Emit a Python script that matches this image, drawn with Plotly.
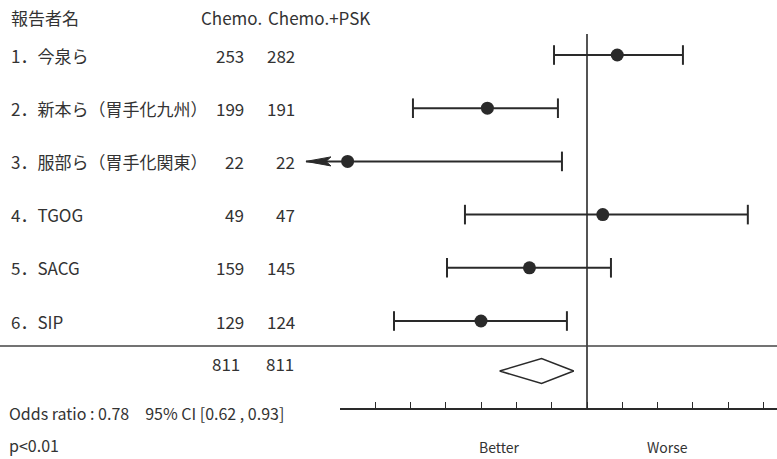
import numpy as np
import plotly.graph_objects as go

# ---------------- data ----------------
header_name = "報告者名"
header_c1 = "Chemo."
header_c2 = "Chemo.+PSK"
studies = ["1．今泉ら", "2．新本ら（胃手化九州）", "3．服部ら（胃手化関東）",
           "4．TGOG", "5．SACG", "6．SIP"]
n_chemo = [253, 199, 22, 49, 159, 129]
n_psk = [282, 191, 22, 47, 145, 124]
odds = [1.18, 0.58, 0.27, 1.09, 0.73, 0.56]
ci_low = [0.835, 0.386, 0.05, 0.513, 0.465, 0.348]
ci_high = [1.69, 0.853, 0.872, 2.41, 1.14, 0.896]
pooled_or, pooled_lo, pooled_hi = 0.78, 0.62, 0.93
stat_text = "Odds ratio : 0.78　95% CI [0.62 , 0.93]"
p_text = "p<0.01"
side_labels = ["Better", "Worse"]
side_label_x = [0.62, 1.55]

# ---------------- style / layout constants ----------------
W, H = 777, 459
ink = "#2a2a2a"
txt = "#333333"
font_cjk = "Noto Sans CJK JP"
x_range = [-1.3943, 0.4513]          # log10 units of the full-width x axis
y_range = [8.594, -0.034]            # row units, reversed
axis_dom_start = 340 / W
axis_row = 7.654
vline_top = 0.605
sep_row = 6.47
sum_row = 6.94
tot_row = 6.79
diamond_h = 0.235
header_row = 0.29
stat_row = 7.73
p_row = 8.33
arrow_min = 0.215                    # CI clipped here with an arrow
arrow_len_dec = 25 / 421             # head length in log10 units
arrow_half_h = 0.085
tick_step = 0.0838
rows = list(range(1, len(studies) + 1))

fig = go.Figure()

# CI lines
xs, ys = [], []
for r, lo, hi in zip(rows, ci_low, ci_high):
    xs += [max(lo, arrow_min), hi, None]
    ys += [r, r, None]
fig.add_trace(go.Scatter(x=xs, y=ys, mode="lines", line=dict(color=ink, width=2),
                         hoverinfo="skip", showlegend=False))

# caps
cx, cy = [], []
for r, lo, hi in zip(rows, ci_low, ci_high):
    if lo >= arrow_min:
        cx.append(lo); cy.append(r)
    cx.append(hi); cy.append(r)
fig.add_trace(go.Scatter(x=cx, y=cy, mode="markers",
                         marker=dict(symbol="line-ns-open", size=14, color=ink,
                                     line=dict(color=ink, width=2)),
                         hoverinfo="skip", showlegend=False))

# arrow heads for clipped CIs
for r, lo in zip(rows, ci_low):
    if lo < arrow_min:
        base = arrow_min * 10 ** arrow_len_dec
        notch = arrow_min * 10 ** (arrow_len_dec * 0.8)
        fig.add_trace(go.Scatter(
            x=[arrow_min, base, notch, base, arrow_min],
            y=[r, r - arrow_half_h, r, r + arrow_half_h, r],
            mode="lines", fill="toself", fillcolor=ink,
            line=dict(color=ink, width=1), hoverinfo="skip", showlegend=False))

# point estimates
fig.add_trace(go.Scatter(x=odds, y=rows, mode="markers",
                         marker=dict(size=13, color=ink),
                         hoverinfo="skip", showlegend=False))

# pooled diamond
fig.add_trace(go.Scatter(
    x=[pooled_lo, pooled_or, pooled_hi, pooled_or, pooled_lo],
    y=[sum_row, sum_row - diamond_h, sum_row, sum_row + diamond_h, sum_row],
    mode="lines", fill="toself", fillcolor="white",
    line=dict(color=ink, width=1.5), hoverinfo="skip", showlegend=False))

# line of no effect
fig.add_trace(go.Scatter(x=[1, 1], y=[vline_top, axis_row], mode="lines",
                         line=dict(color=ink, width=1.6),
                         hoverinfo="skip", showlegend=False))

# invisible trace to carry the tick axis
fig.add_trace(go.Scatter(x=[1], y=[0.5], xaxis="x2", yaxis="y2", mode="markers",
                         marker=dict(opacity=0), hoverinfo="skip", showlegend=False))

# separator line
fig.add_shape(type="line", xref="paper", yref="y", x0=0, x1=1, y0=sep_row, y1=sep_row,
              line=dict(color="#444", width=1.5))

ann = []
def add_text(text, x, y, anchor="left", size=17, yref="y", yanchor="middle", family=font_cjk):
    ann.append(dict(text=text, x=x, y=y, xref="paper", yref=yref, xanchor=anchor,
                    yanchor=yanchor, showarrow=False,
                    font=dict(family=family, size=size, color=txt)))

add_text(header_name, 9 / W, header_row)
add_text(header_c1, 199 / W, header_row, size=17)
add_text(header_c2, 266 / W, header_row, size=17)
for r, name, a, b in zip(rows, studies, n_chemo, n_psk):
    add_text(name, 9 / W, r)
    add_text(str(a), 246 / W, r, anchor="right")
    add_text(str(b), 297 / W, r, anchor="right")
add_text(str(sum(n_chemo)), 242 / W, tot_row, anchor="right")
add_text(str(sum(n_psk)), 296 / W, tot_row, anchor="right")
add_text(stat_text, 7 / W, stat_row, size=16)
add_text(p_text, 7 / W, p_row, size=16)
for lab, xv in zip(side_labels, side_label_x):
    ann.append(dict(text=lab, x=np.log10(xv), y=0, xref="x", yref="paper",
                    xanchor="center", yanchor="bottom", showarrow=False,
                    font=dict(family=font_cjk, size=14, color=txt)))

tickvals = [10 ** (k * tick_step) for k in range(-6, 6)]

fig.update_layout(
    width=W, height=H, margin=dict(l=0, r=0, t=0, b=0),
    paper_bgcolor="white", plot_bgcolor="rgba(0,0,0,0)",
    annotations=ann,
    xaxis=dict(type="log", range=x_range, domain=[0, 1], visible=False, fixedrange=True),
    xaxis2=dict(type="log", anchor="free",
                position=1 - 409 / H, domain=[axis_dom_start, 1],
                range=[x_range[0] + axis_dom_start * (x_range[1] - x_range[0]), x_range[1]],
                showline=True, linecolor=ink, linewidth=1.5,
                ticks="inside", ticklen=6, tickwidth=1.3, tickcolor=ink,
                tickmode="array", tickvals=tickvals, showticklabels=False,
                showgrid=False, zeroline=False, fixedrange=True),
    yaxis=dict(range=y_range, domain=[0, 1], visible=False, fixedrange=True),
    yaxis2=dict(range=[0, 1], domain=[0, 1], anchor="x2", visible=False, fixedrange=True),
)

fig.write_html("out.html")
